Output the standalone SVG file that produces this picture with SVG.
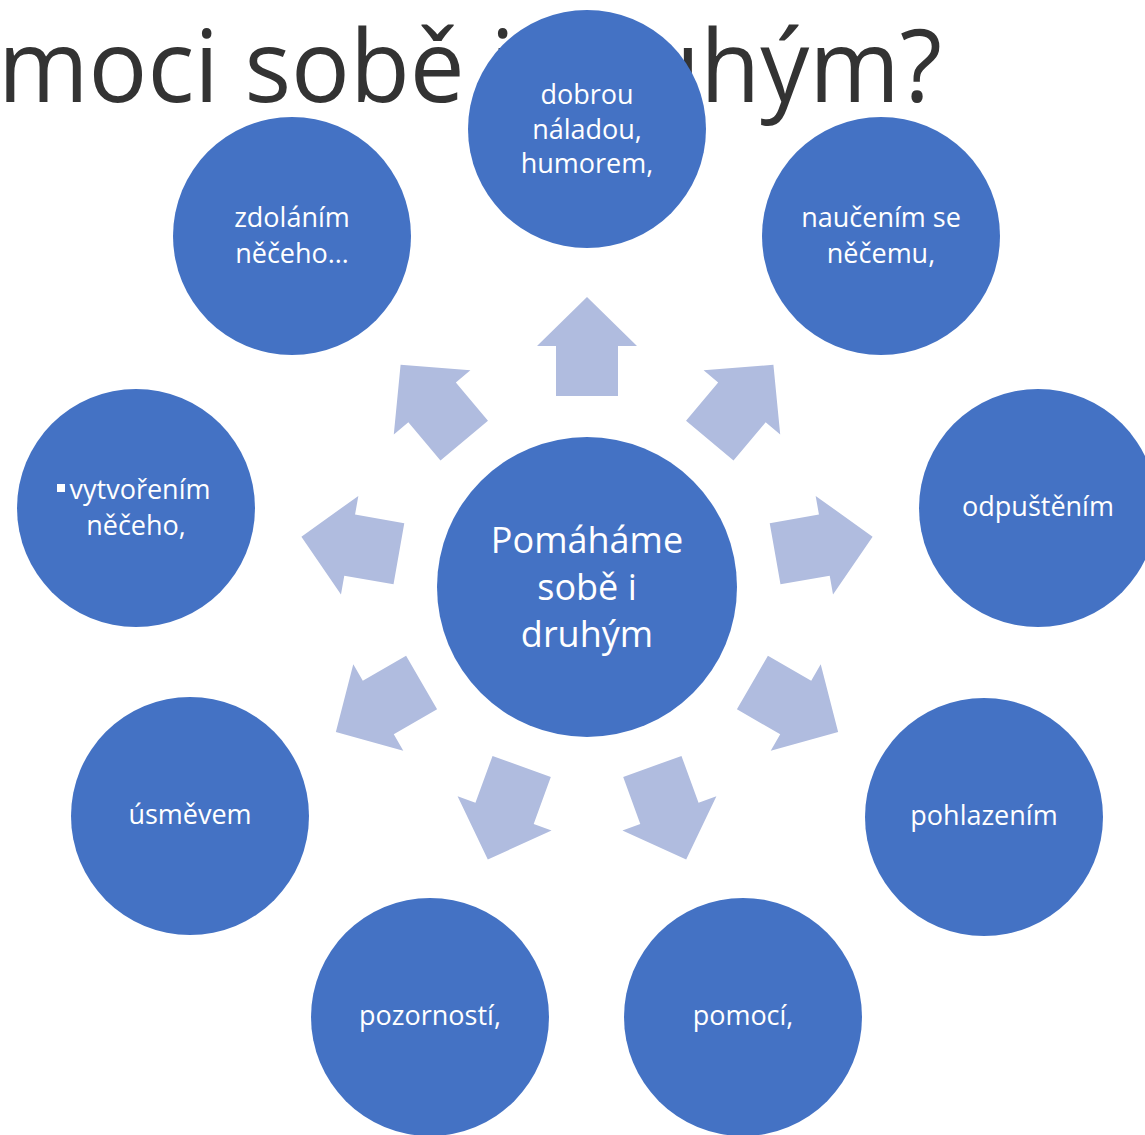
<svg xmlns="http://www.w3.org/2000/svg" width="1145" height="1135" viewBox="0 0 1145 1135">
<style>
.title{font-family:"Open Sans","Noto Sans",sans-serif;font-size:100px;fill:#333333}
.node{fill:#4472C4}
.lbl{font-family:"Open Sans","Noto Sans",sans-serif;font-size:27px;fill:#FFFFFF;text-anchor:middle}
.main{font-family:"Open Sans","Noto Sans",sans-serif;font-size:36px;fill:#FFFFFF;text-anchor:middle}
.arr{fill:#B0BCDF}
</style>
<defs>
<polygon id="arrow" points="-31,-191 -31,-241 -50,-241 0,-290 50,-241 31,-241 31,-191"/>
</defs>
<rect width="1145" height="1135" fill="#FFFFFF"/>
<text class="title" x="-2" y="102" textLength="944" lengthAdjust="spacingAndGlyphs">moci sobě i druhým?</text>
<g id="connectors" class="arr" transform="translate(587,587)">
<use href="#arrow" transform="rotate(0)"/>
<use href="#arrow" transform="rotate(40)"/>
<use href="#arrow" transform="rotate(80)"/>
<use href="#arrow" transform="rotate(120)"/>
<use href="#arrow" transform="rotate(160)"/>
<use href="#arrow" transform="rotate(200)"/>
<use href="#arrow" transform="rotate(240)"/>
<use href="#arrow" transform="rotate(280)"/>
<use href="#arrow" transform="rotate(320)"/>
</g>
<g id="center">
<circle class="node" cx="587" cy="587" r="150"/>
<text class="main" x="587" y="553">Pomáháme</text>
<text class="main" x="587" y="600">sobě i</text>
<text class="main" x="587" y="647">druhým</text>
</g>
<g id="n-dobrou">
<circle class="node" cx="587" cy="129" r="119"/>
<text class="lbl" x="587" y="104">dobrou</text>
<text class="lbl" x="587" y="139">náladou,</text>
<text class="lbl" x="587" y="173">humorem,</text>
</g>
<g id="n-nauceni">
<circle class="node" cx="881" cy="236" r="119"/>
<text class="lbl" x="881" y="227">naučením se</text>
<text class="lbl" x="881" y="263">něčemu,</text>
</g>
<g id="n-odpusteni">
<circle class="node" cx="1038" cy="508" r="119"/>
<text class="lbl" x="1038" y="516">odpuštěním</text>
</g>
<g id="n-pohlazeni">
<circle class="node" cx="984" cy="817" r="119"/>
<text class="lbl" x="984" y="825">pohlazením</text>
</g>
<g id="n-pomoci">
<circle class="node" cx="743" cy="1017" r="119"/>
<text class="lbl" x="743" y="1025">pomocí,</text>
</g>
<g id="n-pozornosti">
<circle class="node" cx="430" cy="1017" r="119"/>
<text class="lbl" x="430" y="1025">pozorností,</text>
</g>
<g id="n-usmev">
<circle class="node" cx="190" cy="816" r="119"/>
<text class="lbl" x="190" y="824">úsměvem</text>
</g>
<g id="n-vytvoreni">
<circle class="node" cx="136" cy="508" r="119"/>
<rect x="57" y="484" width="8" height="8" fill="#FFFFFF"/>
<text class="lbl" x="140" y="499">vytvořením</text>
<text class="lbl" x="136" y="535">něčeho,</text>
</g>
<g id="n-zdolani">
<circle class="node" cx="292" cy="236" r="119"/>
<text class="lbl" x="292" y="227">zdoláním</text>
<text class="lbl" x="292" y="263">něčeho…</text>
</g>
</svg>
